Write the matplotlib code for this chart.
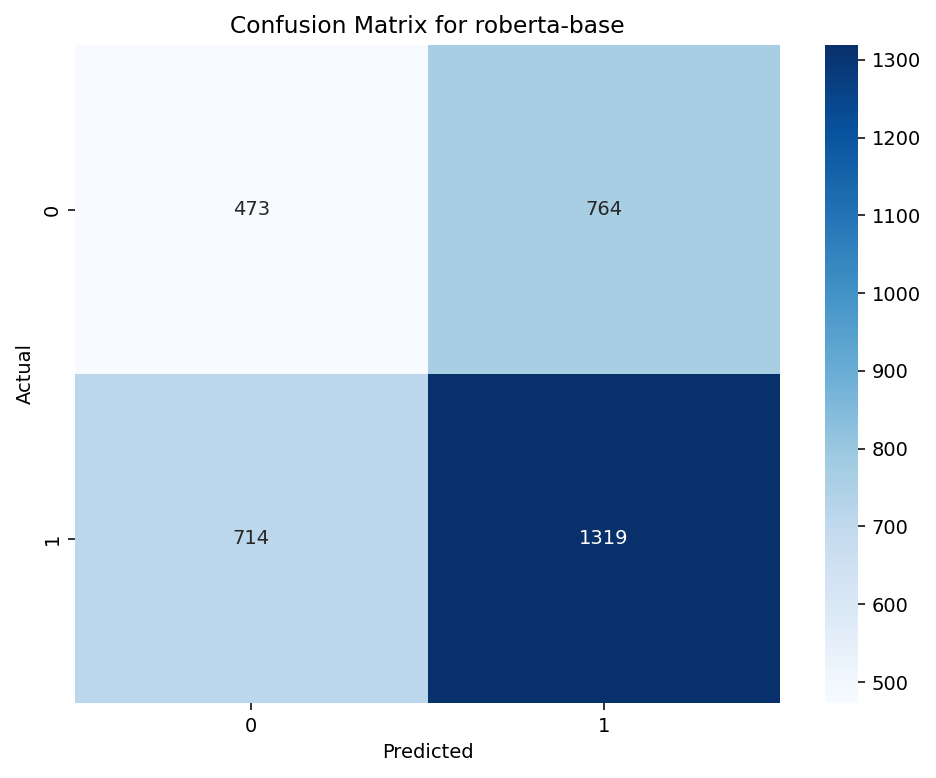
import matplotlib
matplotlib.use("Agg")
import matplotlib.pyplot as plt
import seaborn as sns
import numpy as np

labels = ["0", "1"]
row_0 = [473, 764]
row_1 = [714, 1319]

cm = np.array([row_0, row_1])

DPI = 140
fig = plt.figure(figsize=(936 / DPI, 778 / DPI), dpi=DPI)
ax = fig.add_axes([75 / 936, 75 / 778, 705 / 936, 658 / 778])
cax = fig.add_axes([825 / 936, 75 / 778, 33 / 936, 658 / 778])

sns.heatmap(
    cm,
    annot=True,
    fmt="d",
    cmap="Blues",
    xticklabels=labels,
    yticklabels=labels,
    ax=ax,
    cbar_ax=cax,
)
ax.set_xlabel("Predicted")
ax.set_ylabel("Actual")
ax.set_title("Confusion Matrix for roberta-base")

plt.savefig("out.png", dpi=DPI)
